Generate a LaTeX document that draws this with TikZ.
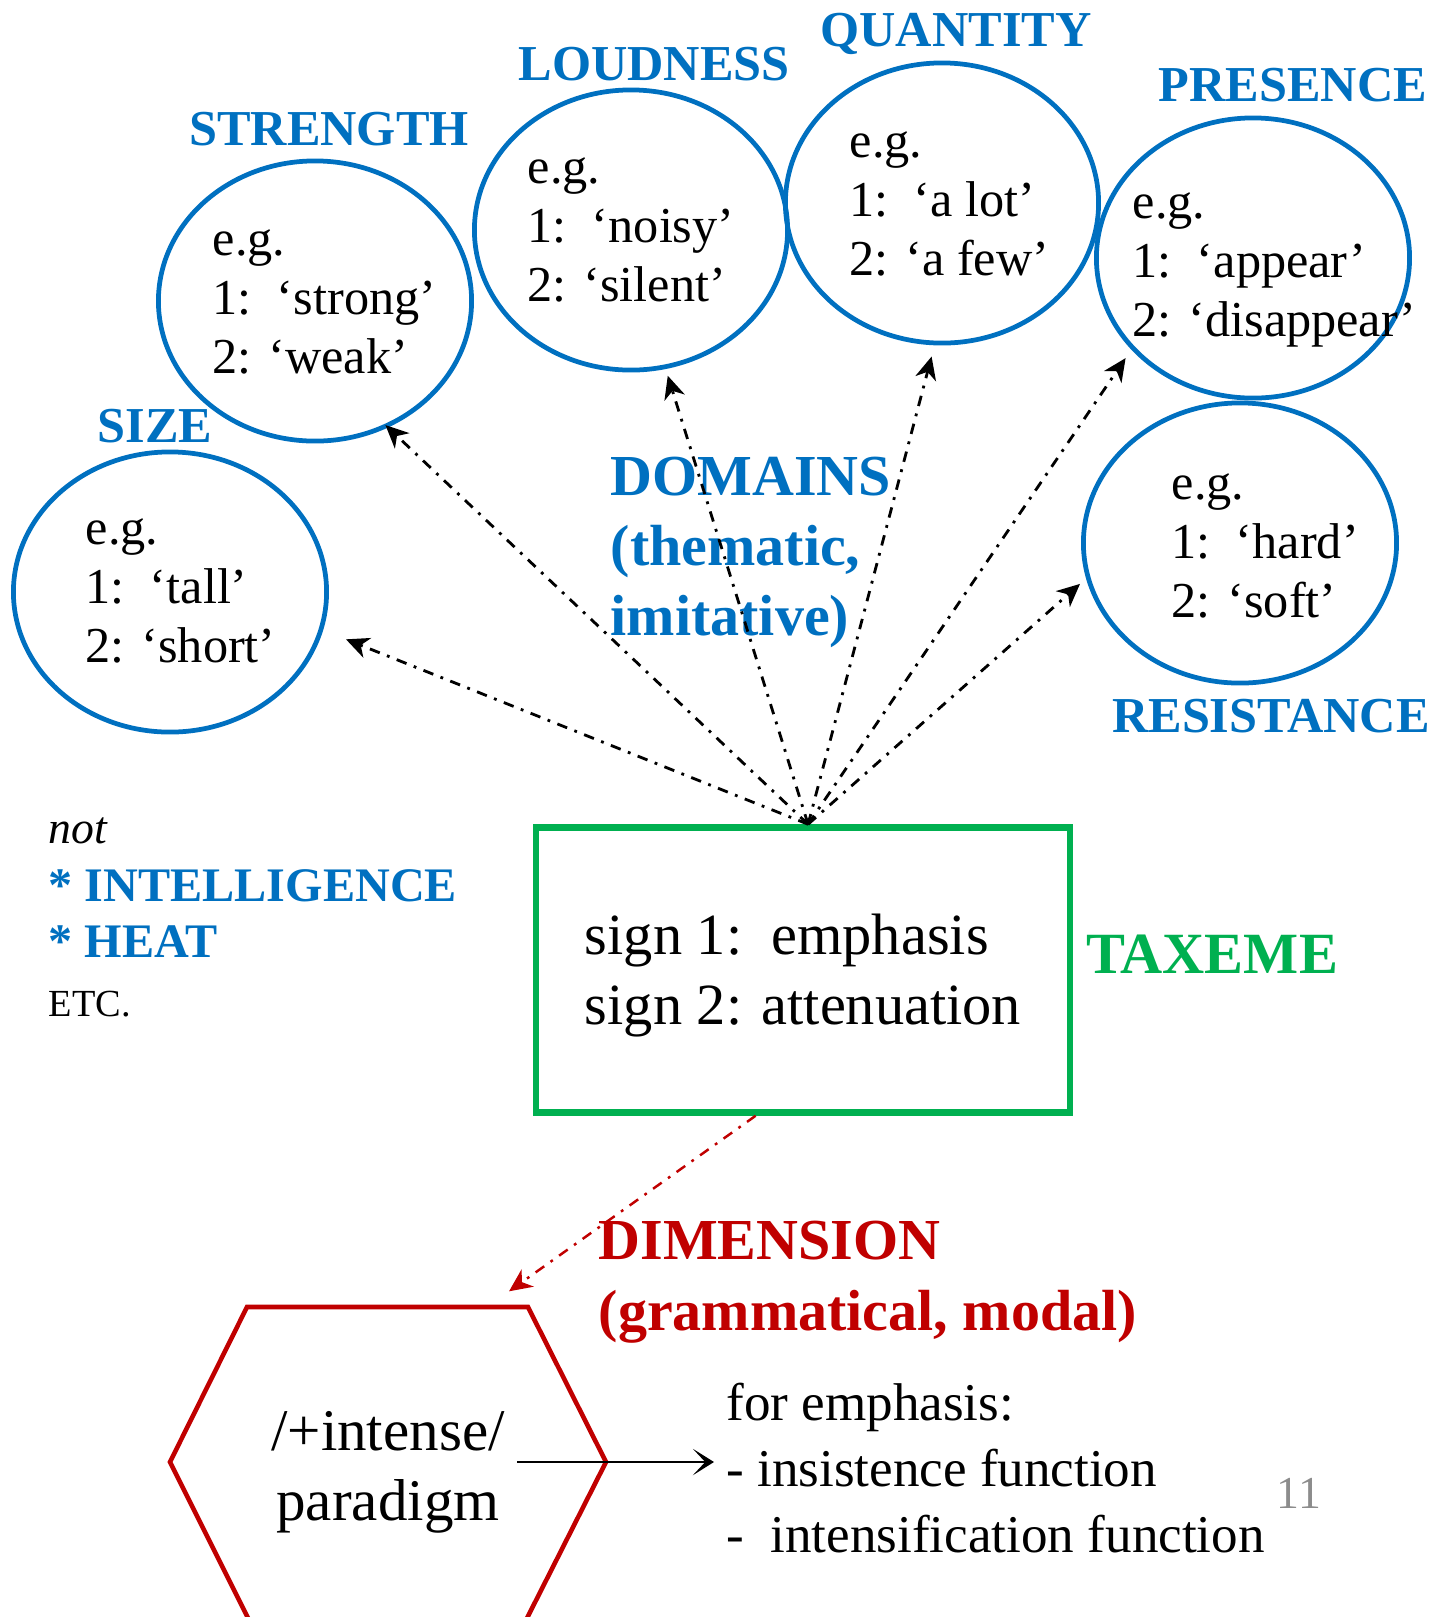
\documentclass[tikz,border=0pt]{standalone}
\usepackage{fontspec}
\setmainfont{Liberation Serif}
\usetikzlibrary{shapes.geometric,arrows.meta,calc}
\definecolor{domblue}{HTML}{0070C0}
\definecolor{taxgreen}{HTML}{00B050}
\definecolor{dimred}{HTML}{C00000}
\definecolor{pagegray}{HTML}{8C8C8C}

\begin{document}
\begin{tikzpicture}[x=0.01cm,y=-0.01cm,
  domain node/.style={ellipse,draw=domblue,line width=1.35pt,minimum width=3.13cm,minimum height=2.80cm,inner sep=0pt},
  example text/.style={align=left,anchor=west,inner sep=0pt,font=\fontsize{14.3}{16.7}\selectfont},
  domain title/.style={inner sep=0pt,text=domblue,font=\bfseries\fontsize{14.3}{17}\selectfont},
  big label/.style={align=left,anchor=west,inner sep=0pt,font=\bfseries\fontsize{16.5}{19.9}\selectfont},
  side text/.style={anchor=west,inner sep=0pt},
  dom arrow/.style={line width=0.8pt,dash pattern=on 3pt off 2.2pt on 0.8pt off 2.2pt,-{Stealth[length=6.5pt,width=6pt,inset=2pt]}}]

\useasboundingbox (0,0) rectangle (1435,1617);

\node[domain node] (size) at (170,592) {};
\node[domain node] (strength) at (315,301) {};
\node[domain node] (loudness) at (631,230) {};
\node[domain node] (quantity) at (942,203) {};
\node[domain node] (presence) at (1253,258) {};
\node[domain node] (resistance) at (1240,543) {};

\node[example text] (size txt) at (85,591) {e.g.\\1:\ \ ‘tall’\\2: ‘short’};
\node[example text] (strength txt) at (212,302) {e.g.\\1:\ \ ‘strong’\\2: ‘weak’};
\node[example text] (loudness txt) at (527,230) {e.g.\\1:\ \ ‘noisy’\\2: ‘silent’};
\node[example text] (quantity txt) at (849,204) {e.g.\\1:\ \ ‘a lot’\\2: ‘a few’};
\node[example text] (presence txt) at (1132,270) {e.g.\\1:\ \ ‘appear’\\2: ‘disappear’};
\node[example text] (resistance txt) at (1171,546) {e.g.\\1:\ \ ‘hard’\\2: ‘soft’};

\node[domain title] (size title) at (155,426) {SIZE};
\node[domain title] (strength title) at (329,129) {STRENGTH};
\node[domain title] (loudness title) at (654,64) {LOUDNESS};
\node[domain title] (quantity title) at (956,34) {QUANTITY};
\node[domain title] (presence title) at (1293,85) {PRESENCE};
\node[domain title] (resistance title) at (1271,716) {RESISTANCE};

\node[big label,text=domblue] (domains) at (610,552) {DOMAINS\\(thematic,\\imitative)};

\node[side text,font=\itshape\fontsize{13}{15}\selectfont] (not) at (48,831) {not};
\node[side text,text=domblue,font=\bfseries\fontsize{13.7}{15}\selectfont] (intelligence) at (48,886) {* INTELLIGENCE};
\node[side text,text=domblue,font=\bfseries\fontsize{13.7}{15}\selectfont] (heat) at (48,942) {* HEAT};
\node[side text,font=\fontsize{10.9}{13}\selectfont] (etc) at (48,1004) {ETC.};

\node[draw=taxgreen,line width=1.8pt,minimum width=5.34cm,minimum height=2.85cm] (sign box) at (803,970) {};
\node[align=left,inner sep=0pt,font=\fontsize{16.6}{19.9}\selectfont] (signs) at (803,976) {sign 1:\ \ emphasis\\sign 2: attenuation};
\node[inner sep=0pt,text=taxgreen,font=\bfseries\fontsize{16.6}{19}\selectfont] (taxeme) at (1212,954) {TAXEME};

\node[big label,text=dimred,font=\bfseries\fontsize{16.5}{20.1}\selectfont] (dimension) at (598,1282) {DIMENSION\\(grammatical, modal)};

\coordinate (hex nw) at (247,1307);
\coordinate (hex ne) at (528,1307);
\coordinate (hex e) at (606,1462);
\coordinate (hex se) at (521,1630);
\coordinate (hex sw) at (254,1630);
\coordinate (hex w) at (170,1462);
\draw[dimred,line width=1.3pt] (hex nw) -- (hex ne) -- (hex e) -- (hex se) -- (hex sw) -- (hex w) -- cycle;

\node[align=center,font=\fontsize{16.8}{19.8}\selectfont] (paradigm) at (388,1472) {/+intense/\\paradigm};
\node[anchor=west,align=left,font=\fontsize{15.1}{18.7}\selectfont] (functions) at (714,1468) {for emphasis:\\- insistence function\\-\ \ intensification function};
\node[text=pagegray,inner sep=0pt,font=\fontsize{13}{15}\selectfont] (page) at (1299,1493) {11};

\path (sign box.88) [dom arrow,shorten >=7pt] edge (size.-14);
\path (sign box.88) [dom arrow,shorten >=-1pt] edge (strength.-60.7);
\path (sign box.88) [dom arrow,shorten >=2pt] edge (loudness.-76.6);
\path (sign box.88) [dom arrow,shorten >=3.3pt] edge (quantity.-93.4);
\path (sign box.88) [dom arrow,shorten >=2.9pt] edge (presence.-143.9);
\path (sign box.88) [dom arrow,shorten >=2.3pt] edge (resistance.-167);

\path (sign box.-108) [dimred,line width=0.7pt,dash pattern=on 3pt off 2.2pt on 0.8pt off 2.2pt,shorten >=7.7pt,-{Stealth[length=6.5pt,width=6pt,inset=2pt]}] edge ($(hex nw)!0.854!(hex ne)$);
\path (paradigm.east |- hex e) [line width=0.8pt,-{Stealth[length=6pt,width=7.5pt,inset=3.5pt]}] edge (functions.west |- hex e);
\end{tikzpicture}
\end{document}
